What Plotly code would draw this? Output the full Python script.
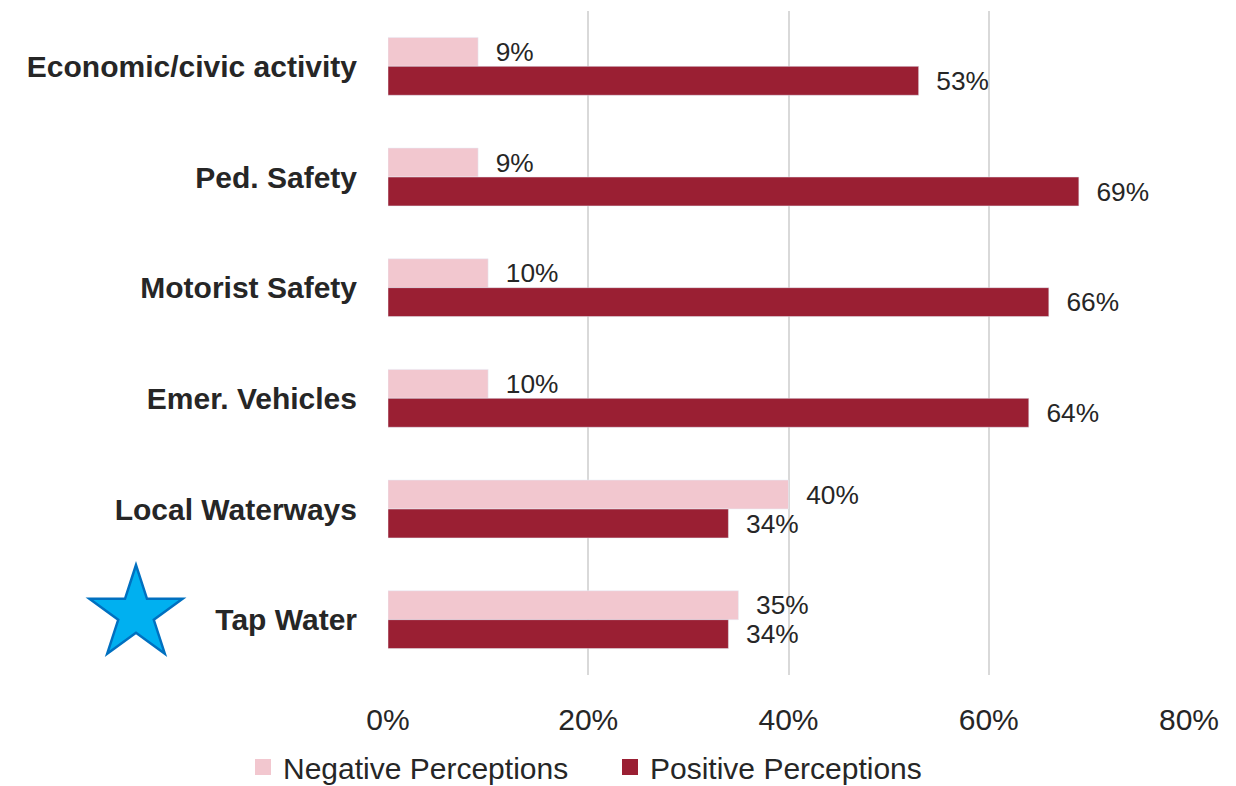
import math
import plotly.graph_objects as go

categories = ["Economic/civic activity", "Ped. Safety", "Motorist Safety",
              "Emer. Vehicles", "Local Waterways", "Tap Water"]
negative = [9, 9, 10, 10, 40, 35]
positive = [53, 69, 66, 64, 34, 34]
series_names = ["Negative Perceptions", "Positive Perceptions"]
tick_vals = [0, 20, 40, 60, 80]
tick_text = ["0%", "20%", "40%", "60%", "80%"]

NEG_COLOR = "#F2C7CF"
POS_COLOR = "#9A1F33"
TEXT = "#262626"
FONT = "Liberation Sans, Arial, sans-serif"

fig = go.Figure()
for vals, name, color in [(negative, series_names[0], NEG_COLOR),
                          (positive, series_names[1], POS_COLOR)]:
    fig.add_trace(go.Bar(
        y=categories, x=vals, orientation="h", name=name,
        marker_color=color, text=[f"\u00a0\u00a0{v}%" for v in vals],
        textposition="outside", cliponaxis=False, showlegend=False,
        textfont=dict(size=30, color=TEXT, family=FONT),
    ))
# legend entries with larger square swatches
for name, color in [(series_names[0], NEG_COLOR), (series_names[1], POS_COLOR)]:
    fig.add_trace(go.Scatter(
        x=[None], y=[None], mode="markers", name=name,
        marker=dict(symbol="square", size=17, color=color), showlegend=True,
    ))

# star decoration next to "Tap Water"
R, r = 49, 18.7
pts = []
for i in range(10):
    ang = math.pi / 2 + i * math.pi / 5
    rad = R if i % 2 == 0 else r
    pts.append((rad * math.cos(ang), rad * math.sin(ang)))
path = "M " + " L ".join(f"{x:.2f},{y:.2f}" for x, y in pts) + " Z"
fig.add_shape(type="path", path=path, xref="paper", yref="paper",
              xsizemode="pixel", ysizemode="pixel", xanchor=-252 / 801, yanchor=61 / 664,
              fillcolor="#00B0F0", line=dict(color="#0070C0", width=2.5), layer="above")

fig.update_layout(
    width=1228, height=778,
    margin=dict(l=380, r=47, t=3, b=111, autoexpand=False),
    paper_bgcolor="white", plot_bgcolor="white",
    barmode="group", bargap=0.477, bargroupgap=0,
    showlegend=True,
    legend=dict(orientation="h", xref="container", x=235 / 1228, xanchor="left",
                yref="container", y=1 - 759 / 778, yanchor="middle",
                font=dict(size=30, color=TEXT, family=FONT),
                entrywidth=322, entrywidthmode="pixels", itemsizing="trace",
                itemwidth=30, traceorder="normal"),
    xaxis=dict(range=[0, 80], tickvals=tick_vals, ticktext=tick_text,
               showgrid=True, gridcolor="#D9D9D9", gridwidth=1.5, zeroline=False,
               tickfont=dict(size=30, color=TEXT, family=FONT),
               ticklabelstandoff=24, showline=False, automargin=False),
    yaxis=dict(categoryorder="array", categoryarray=categories,
               autorange="reversed", automargin=False,
               tickfont=dict(size=30, color=TEXT, family=FONT, weight="bold"),
               ticklabelstandoff=30, showgrid=False, zeroline=False, showline=False),
)
fig.write_html("out.html")
